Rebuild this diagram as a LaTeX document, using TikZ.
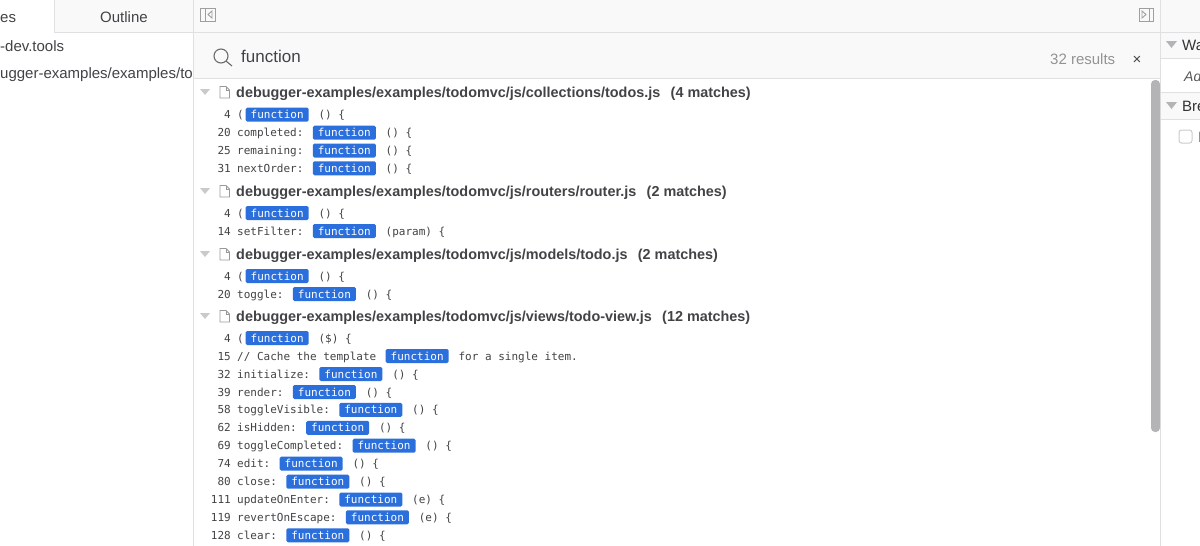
\documentclass[tikz,border=0pt]{standalone}
\usepackage{fontspec}
\setmainfont{Liberation Sans}
\newfontfamily\codefont{DejaVu Sans Mono}
\usetikzlibrary{positioning}

\definecolor{barbg}{HTML}{F9F9FA}
\definecolor{rulegray}{HTML}{E0E0E2}
\definecolor{fnblue}{HTML}{2A6FDB}
\definecolor{codegray}{HTML}{434347}
\definecolor{tipgray}{HTML}{B4B4B6}

\tikzset{
  uitext/.style={anchor=base west, inner sep=0pt, text=codegray, font=\fontsize{15}{18}\selectfont},
  fileline/.style={anchor=base west, inner sep=0pt, text=codegray, font=\fontsize{14.4}{17}\selectfont\bfseries},
  codeline/.style={inner sep=0pt, text=codegray, font=\fontsize{11}{13}\codefont},
  fnbadge/.style={inner xsep=5pt, inner ysep=0pt, text height=11pt, text depth=3pt,
    fill=fnblue, text=white, rounded corners=1.5pt, font=\fontsize{11}{13}\codefont},
  rulebar/.style={line width=1pt, rulegray},
  tiptri/.style={fill=tipgray, draw=none},
  iconline/.style={line width=0.9pt, draw=gray!75}
}

\begin{document}
\begin{tikzpicture}[x=1pt,y=-1pt]

\useasboundingbox (0,0) rectangle (1200,546);
\fill[white] (0,0) rectangle (1200,546);

% bars
\fill[barbg] (54,0) rectangle (1200,32);
\fill[barbg] (193,33) rectangle (1160,78);
\fill[barbg] (1160,33) rectangle (1200,58);
\fill[barbg] (1160,93) rectangle (1200,119);

\draw[rulebar] (54,0) -- (54,32);
\draw[rulebar] (54,32) -- (1200,32);
\draw[rulebar] (193,0) -- (193,546);
\draw[rulebar] (1160,0) -- (1160,546);
\draw[rulebar] (193,78) -- (1160,78);
\draw[rulebar] (1160,58) -- (1200,58);
\draw[rulebar] (1160,92) -- (1200,92);
\draw[rulebar] (1160,119) -- (1200,119);

% left panel
\node[uitext] (tabsources) at (0,22) {es};
\node[uitext] (taboutline) at (100,22) {Outline};
\node[uitext] (hostrow) at (0,51) {-dev.tools};
\begin{scope}
  \clip (0,60) rectangle (193,90);
  \node[uitext] (pathrow) at (0,78) {ugger-examples/examples/to};
\end{scope}

% toggle icons
\draw[iconline] (200.5,8) rectangle (215.5,21);
\draw[iconline] (205,8) -- (205,21);
\draw[iconline] (212,11) -- (208,14.5) -- (212,18) -- cycle;
\draw[iconline] (1139,8) rectangle (1153.5,21);
\draw[iconline] (1149,8) -- (1149,21);
\draw[iconline] (1142,11) -- (1146,14.5) -- (1142,18) -- cycle;

% search bar
\draw[line width=1.1pt, gray!85!black] (221,56) circle (7);
\draw[line width=1.1pt, gray!85!black] (226,61) -- (232,66);
\node[uitext, font=\fontsize{17}{20}\selectfont] (searchtext) at (241,62) {function};
\node[uitext, text=gray!85, font=\fontsize{15}{18}\selectfont] (resultcount) at (1050,64) {32 results};
\node[uitext, text=codegray, font=\fontsize{15}{18}\selectfont] (closex) at (1132.5,64) {×};

% right panel
\fill[tiptri] (1166,41) -- (1177,41) -- (1171.5,48) -- cycle;
\fill[tiptri] (1166,102) -- (1177,102) -- (1171.5,109) -- cycle;
\node[uitext, text=black!80] (watchhead) at (1182,50) {Wa};
\node[uitext, text=black!65, font=\fontsize{14}{17}\itshape] (addrow) at (1184,81) {Ad};
\node[uitext, text=black!80] (breakhead) at (1182,111) {Bre};
\draw[line width=1pt, gray!40, rounded corners=2.5pt] (1179,130) rectangle (1192,143);
\node[uitext, text=black!70] (breakrow) at (1198,142) {I};

% file headers
\foreach \y/\file/\hits [count=\i] in {
  92/{debugger-examples/examples/todomvc/js/collections/todos.js}/{(4 matches)},
  191/{debugger-examples/examples/todomvc/js/routers/router.js}/{(2 matches)},
  254/{debugger-examples/examples/todomvc/js/models/todo.js}/{(2 matches)},
  316/{debugger-examples/examples/todomvc/js/views/todo-view.js}/{(12 matches)}}{
  \fill[tipgray!70] (200,\y-3) -- (210,\y-3) -- (205,\y+3) -- cycle;
  \draw[line width=0.8pt, gray!80] (220,\y-5.5) -- (226,\y-5.5) -- (229.5,\y-2) -- (229.5,\y+6) -- (220,\y+6) -- cycle;
  \draw[line width=0.8pt, gray!80] (226,\y-5.5) -- (226,\y-2) -- (229.5,\y-2);
  \node[fileline] (file\i) at (236,\y+5) {\file};
  \node[fileline, base right=10pt of file\i] (hits\i) {\hits};
}

% code rows
\foreach \y/\num/\pre/\gap/\post [count=\i] in {
  114.7/4/(/1.5/() \{,
  132.7/20/completed:/9/() \{,
  150.5/25/remaining:/9/() \{,
  168.3/31/nextOrder:/9/() \{,
  213/4/(/1.5/() \{,
  231/14/setFilter:/9/(param) \{,
  276/4/(/1.5/() \{,
  294/20/toggle:/9/() \{,
  338/4/(/1.5/(\$) \{,
  356/15/{// Cache the template}/9/for a single item.,
  374/32/initialize:/9/() \{,
  392/39/render:/9/() \{,
  409.9/58/toggleVisible:/9/() \{,
  427.8/62/isHidden:/9/() \{,
  445.7/69/toggleCompleted:/9/() \{,
  463.7/74/edit:/9/() \{,
  481.7/80/close:/9/() \{,
  499.5/111/updateOnEnter:/9/(e) \{,
  517.3/119/revertOnEscape:/9/(e) \{,
  535.3/128/clear:/9/() \{}{
  \node[codeline, anchor=base east] (num\i) at (231,\y+4) {\num};
  \node[codeline, anchor=base west] (pre\i) at (237,\y+4) {\pre};
  \node[fnbadge, base right=\gap pt of pre\i] (fn\i) {function};
  \node[codeline, base right=9.5pt of fn\i] (post\i) {\post};
}

% scrollbar
\fill[tipgray, rounded corners=4pt] (1151,80) rectangle (1160,432);

\end{tikzpicture}
\end{document}
